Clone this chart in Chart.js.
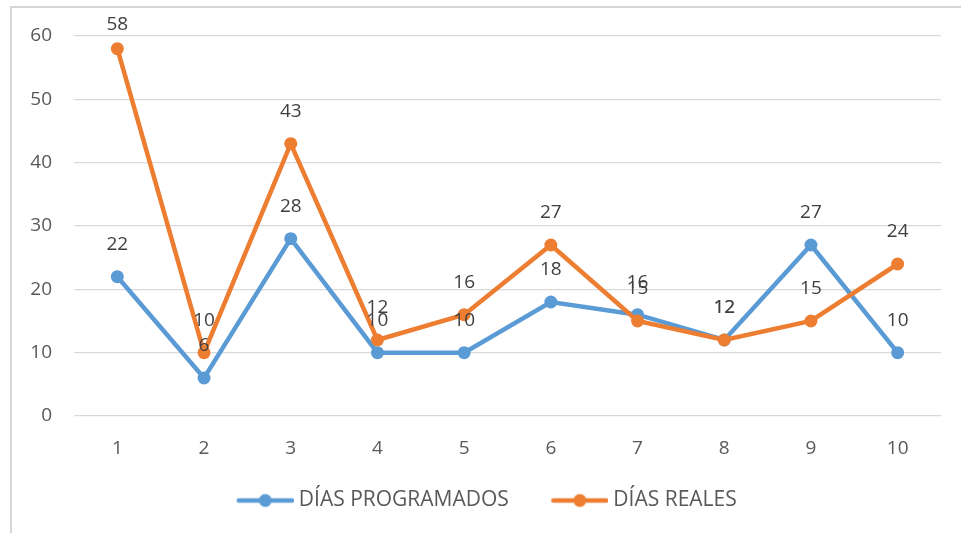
<!DOCTYPE html>
<html>
<head>
<meta charset="utf-8">
<script src="https://cdn.jsdelivr.net/npm/chart.js@4/dist/chart.umd.min.js"></script>
<style>
  html, body { margin: 0; padding: 0; background: #fff; overflow: hidden; }
  canvas { display: block; }
</style>
</head>
<body>
<canvas id="chart" width="961" height="533"></canvas>
<script>
var categories = ['1', '2', '3', '4', '5', '6', '7', '8', '9', '10'];
var series_names = ['DÍAS PROGRAMADOS', 'DÍAS REALES'];
var dias_programados = [22, 6, 28, 10, 10, 18, 16, 12, 27, 10];
var dias_reales = [58, 10, 43, 12, 16, 27, 15, 12, 15, 24];
var y_ticks = [0, 10, 20, 30, 40, 50, 60];

var colors = ['#5B9BD5', '#ED7D31'];
var font_family = "'Open Sans', 'Liberation Sans', sans-serif";

// line + dot marker; transparent left margin makes the gap between legend items
function legend_marker(color) {
    var c = document.createElement('canvas');
    c.width = 95;
    c.height = 16;
    var ctx = c.getContext('2d');
    ctx.strokeStyle = color;
    ctx.lineWidth = 4.5;
    ctx.lineCap = 'round';
    ctx.beginPath();
    ctx.moveTo(40, 8);
    ctx.lineTo(93, 8);
    ctx.stroke();
    ctx.fillStyle = color;
    ctx.beginPath();
    ctx.arc(66.5, 8, 6.5, 0, Math.PI * 2);
    ctx.fill();
    return c;
}
var markers = [legend_marker(colors[0]), legend_marker(colors[1])];

// chart frame (cut off at right and bottom, as in the screenshot)
var frame = {
    id: 'frame',
    beforeDraw: function (chart) {
        var ctx = chart.ctx;
        ctx.save();
        ctx.fillStyle = '#fff';
        ctx.fillRect(0, 0, chart.width, chart.height);
        ctx.fillStyle = '#d6d6d6';
        ctx.fillRect(10, 6, 2, chart.height - 6);
        ctx.fillRect(10, 6, chart.width - 10, 2);
        ctx.restore();
    }
};

// value labels above each point, like Excel "above" placement
var value_labels = {
    id: 'value_labels',
    afterDatasetsDraw: function (chart) {
        var ctx = chart.ctx;
        ctx.save();
        ctx.font = "19px " + font_family;
        ctx.fillStyle = '#404040';
        ctx.textAlign = 'center';
        ctx.textBaseline = 'middle';
        [1, 0].forEach(function (i) {
            var meta = chart.getDatasetMeta(i);
            meta.data.forEach(function (pt, j) {
                var y = Math.max(pt.y - 32, 25);
                ctx.fillText(chart.data.datasets[i].data[j], pt.x, y);
            });
        });
        ctx.restore();
    }
};

var data = {
    labels: categories,
    datasets: [{
        label: series_names[0],
        data: dias_programados,
        borderColor: colors[0],
        backgroundColor: colors[0],
        borderWidth: 4.5,
        pointRadius: 6.5,
        pointHoverRadius: 6.5,
        pointBorderWidth: 0,
        order: 2
    }, {
        label: series_names[1],
        data: dias_reales,
        borderColor: colors[1],
        backgroundColor: colors[1],
        borderWidth: 4.5,
        pointRadius: 6.5,
        pointHoverRadius: 6.5,
        pointBorderWidth: 0,
        order: 1
    }]
};

var chart_option = {
    responsive: false,
    animation: false,
    layout: { padding: { left: 0, right: 20, top: 36, bottom: 12 } },
    plugins: {
        tooltip: { enabled: false },
        legend: {
            position: 'bottom',
            labels: {
                usePointStyle: true,
                pointStyleWidth: 84,
                padding: 10,
                color: '#595959',
                font: { family: font_family, size: 21 },
                generateLabels: function (chart) {
                    return chart.data.datasets.map(function (ds, i) {
                        return {
                            text: ds.label,
                            datasetIndex: i,
                            pointStyle: markers[i],
                            fillStyle: colors[i],
                            strokeStyle: colors[i],
                            lineWidth: 0,
                            fontColor: '#595959',
                            hidden: false
                        };
                    });
                }
            }
        }
    },
    scales: {
        x: {
            offset: true,
            grid: { display: false, drawTicks: false },
            border: { display: false },
            ticks: { color: '#595959', padding: 21, font: { family: font_family, size: 19 } },
            afterFit: function (s) { s.height = 64; }
        },
        y: {
            min: 0,
            max: 60,
            afterBuildTicks: function (s) { s.ticks = y_ticks.map(function (v) { return { value: v }; }); },
            grid: { color: '#d9d9d9', lineWidth: 1.3, drawTicks: false },
            border: { display: false },
            ticks: { color: '#595959', padding: 22, font: { family: font_family, size: 19 } },
            afterFit: function (s) { s.width = 74; }
        }
    }
};

var ctx = document.getElementById('chart').getContext('2d');
var myChart = new Chart(ctx, { type: 'line', data: data, options: chart_option, plugins: [frame, value_labels] });
</script>
</body>
</html>
